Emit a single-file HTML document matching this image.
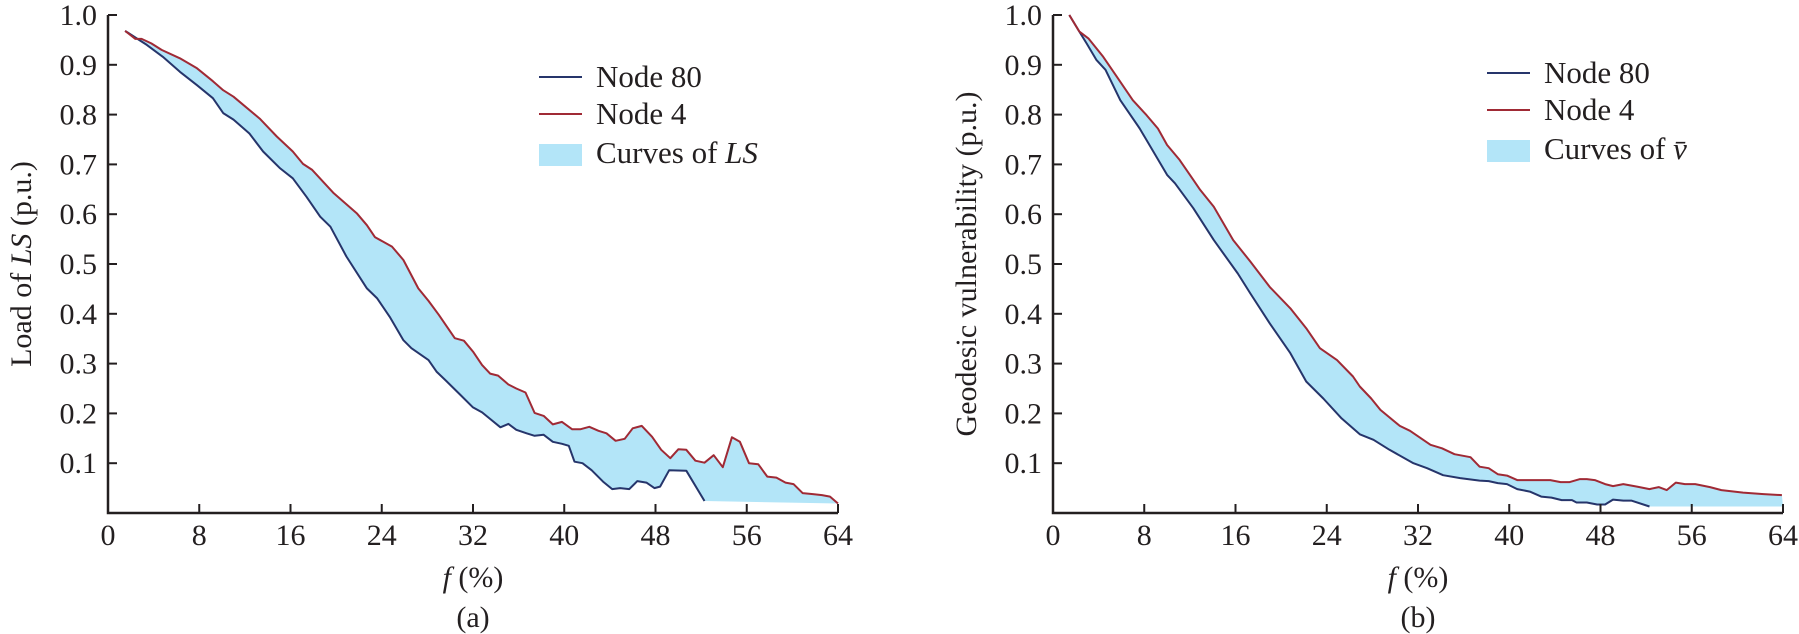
<!DOCTYPE html>
<html><head><meta charset="utf-8"><style>
html,body{margin:0;padding:0;background:#fff;}
svg{display:block;font-family:"Liberation Serif",serif;}
</style></head><body>
<svg id="chart" width="1799" height="634" viewBox="0 0 1799 634" xmlns="http://www.w3.org/2000/svg"></svg>
<script>
// Panel (a) data
const aRedF=[1.5,2.4,2.95,3.8,4.7,6.3,7.8,9.2,10.1,11.0,13.3,14.8,16.2,17.1,17.9,19.8,21.8,22.7,23.4,24.9,25.9,27.2,28.1,29.0,30.4,31.2,32.0,32.8,33.5,34.2,35.1,35.8,36.6,37.4,38.2,39.0,39.8,40.7,41.4,42.2,43.0,43.7,44.5,45.3,46.0,46.8,47.7,48.5,49.3,50.0,50.7,51.5,52.3,53.1,53.9,54.7,55.4,56.2,57.0,57.8,58.6,59.4,60.1,60.9,61.8,62.6,63.3,64.0];
const aRedV=[.968,.952,.952,.943,.930,.913,.893,.867,.849,.836,.792,.756,.726,.701,.689,.642,.602,.578,.554,.535,.508,.451,.426,.398,.351,.346,.324,.297,.280,.276,.258,.250,.242,.201,.195,.178,.183,.168,.168,.173,.165,.160,.145,.149,.170,.175,.153,.127,.110,.128,.127,.105,.101,.116,.092,.152,.143,.100,.098,.073,.071,.061,.058,.040,.038,.036,.033,.019];
const aBlueF=[1.5,3.4,4.8,6.3,7.8,9.2,10.1,11.0,12.4,13.6,15.1,16.2,17.4,18.6,19.5,20.9,22.7,23.6,24.7,25.9,26.6,28.1,28.8,29.7,30.9,32.0,32.8,33.6,34.4,35.1,35.8,36.7,37.4,38.2,39.0,39.8,40.4,40.9,41.6,42.4,43.4,44.2,44.9,45.7,46.4,47.2,47.9,48.4,49.2,50.7,52.3];
const aBlueV=[.968,.940,.916,.886,.859,.833,.803,.790,.762,.726,.692,.672,.635,.595,.575,.515,.451,.431,.394,.347,.331,.307,.284,.264,.237,.212,.202,.187,.172,.179,.167,.160,.155,.157,.143,.139,.135,.103,.100,.086,.063,.048,.050,.048,.064,.061,.050,.053,.086,.085,.024];
const aTailF=[64];
const aTailV=[.019];
// Panel (b) data
const bRedF=[1.43,2.3,3.1,4.4,5.6,7.0,8.2,9.2,10.0,11.1,12.3,12.9,14.1,15.8,17.3,19.0,20.8,22.2,23.4,24.9,26.3,26.9,27.9,28.7,30.4,31.3,33.1,34.1,35.2,36.6,37.4,38.2,39.0,39.8,40.7,41.5,43.6,44.5,45.3,46.2,46.8,47.5,48.4,49.1,50.0,51.2,52.3,53.1,53.8,54.6,55.4,56.3,57.6,58.6,60.5,62.3,63.9];
const bRedV=[1.0,.967,.953,.916,.876,.829,.799,.772,.739,.709,.669,.649,.615,.548,.505,.454,.411,.371,.331,.307,.274,.254,.230,.207,.175,.165,.137,.130,.118,.112,.093,.090,.078,.075,.066,.066,.066,.062,.062,.068,.068,.066,.058,.054,.058,.053,.048,.052,.046,.061,.058,.058,.052,.046,.041,.038,.036];
const bBlueF=[1.43,2.3,2.95,3.8,4.6,5.9,7.6,10.0,10.7,12.3,14.1,16.2,17.3,19.0,20.8,22.2,23.7,25.3,26.9,28.1,29.5,31.6,32.8,34.2,35.7,37.4,38.2,39.0,39.8,40.7,41.8,42.8,43.7,44.6,45.5,45.9,46.8,47.7,48.4,49.1,50.0,50.7,52.3];
const bBlueV=[1.0,.967,.943,.910,.890,.829,.772,.679,.662,.612,.548,.481,.441,.381,.321,.264,.230,.190,.158,.147,.127,.100,.090,.076,.070,.065,.064,.060,.058,.048,.043,.033,.031,.026,.026,.021,.021,.017,.017,.027,.025,.025,.013];
const bTailF=[64];
const bTailV=[.013];
const xTicks=[0,8,16,24,32,40,48,56,64];
const yTicks=[0.1,0.2,0.3,0.4,0.5,0.6,0.7,0.8,0.9,1.0];
const yTickLabels=["0.1","0.2","0.3","0.4","0.5","0.6","0.7","0.8","0.9","1.0"];

const NS="http://www.w3.org/2000/svg";
const svg=document.getElementById('chart');
function mk(tag,attrs,parent,text){const e=document.createElementNS(NS,tag);for(const k in attrs)e.setAttribute(k,attrs[k]);if(text!==undefined)e.textContent=text;(parent||svg).appendChild(e);return e;}
const RED="#a02a35",BLUE="#26356b",FILL="#b3e5f8",AX="#231f20";
const Y0=513,Y1=15;
function yS(v){return Y0-(Y1-Y0)*-v;}
function yScale(v){return Y0+(Y1-Y0)*v;}

function panel(id,x0,redF,redV,blueF,blueV,tailF,tailV,yTitle,legendLast,letter,lx,ly){
  const xScale=f=>x0+f*(730/64);
  const g=mk('g',{});
  
  
  // fill
  let pts=[];
  for(let i=0;i<redF.length;i++)pts.push(xScale(redF[i]).toFixed(1)+','+yScale(redV[i]).toFixed(1));
  for(let i=tailF.length-1;i>=0;i--)pts.push(xScale(tailF[i]).toFixed(1)+','+yScale(tailV[i]).toFixed(1));
  for(let i=blueF.length-1;i>=0;i--)pts.push(xScale(blueF[i]).toFixed(1)+','+yScale(blueV[i]).toFixed(1));
  const band=mk('polygon',{points:pts.join(' '),fill:FILL,stroke:'none'},g);
  
  
  const line=(F,V,c,n)=>{const p=F.map((f,i)=>xScale(f).toFixed(1)+','+yScale(V[i]).toFixed(1)).join(' ');
    const l=mk('polyline',{points:p,fill:'none',stroke:c,'stroke-width':2,'stroke-linejoin':'round'},g);
    
    };
  line(blueF,blueV,BLUE,'node-80-line-'+id);
  line(redF,redV,RED,'node-4-line-'+id);
  // axes
  const ax=mk('path',{d:`M${x0},${Y1} V${Y0} H${xScale(64)}`,fill:'none',stroke:AX,'stroke-width':2.5},g);
  
  
  yTicks.forEach((v,i)=>{const y=yScale(v);
    mk('line',{x1:x0,x2:x0+9,y1:y,y2:y,stroke:AX,'stroke-width':2},g);
    const t=mk('text',{x:x0-11,y:y+10,'text-anchor':'end','font-size':30,fill:AX},g,yTickLabels[i]);
    
    });
  xTicks.forEach(f=>{const x=xScale(f);
    mk('line',{x1:x,x2:x,y1:Y0,y2:Y0-9,stroke:AX,'stroke-width':2},g);
    const t=mk('text',{x:x,y:545,'text-anchor':'middle','font-size':30,fill:AX},g,String(f));
    
    });
  const cx=(x0+xScale(64))/2;
  const xt=mk('text',{x:cx,y:587,'text-anchor':'middle','font-size':30,fill:AX},g);
  
  
  mk('tspan',{'font-style':'italic'},xt,'f');mk('tspan',{},xt,' (%)');
  const lt=mk('text',{x:cx,y:627,'text-anchor':'middle','font-size':30,fill:AX},g,letter);
  
  
  const yt=mk('text',{x:0,y:0,'text-anchor':'middle','font-size':30,fill:AX,transform:`translate(${x0-77},264) rotate(-90)`},g);
  
  
  yTitle(yt);
  // legend
  const lg=mk('g',{},g);
  
  
  mk('line',{x1:lx,x2:lx+43,y1:ly,y2:ly,stroke:BLUE,'stroke-width':2},lg);
  mk('text',{x:lx+57,y:ly+10,'font-size':31,fill:AX},lg,'Node 80');
  mk('line',{x1:lx,x2:lx+43,y1:ly+37,y2:ly+37,stroke:RED,'stroke-width':2},lg);
  mk('text',{x:lx+57,y:ly+47,'font-size':31,fill:AX},lg,'Node 4');
  mk('rect',{x:lx,y:ly+67,width:43,height:22,fill:FILL},lg);
  const l3=mk('text',{x:lx+57,y:ly+86,'font-size':31,fill:AX},lg);
  legendLast(l3);
}
panel('a',108,aRedF,aRedV,aBlueF,aBlueV,aTailF,aTailV,
  t=>{mk('tspan',{},t,'Load of ');mk('tspan',{'font-style':'italic'},t,'LS');mk('tspan',{},t,' (p.u.)');},
  t=>{mk('tspan',{},t,'Curves of ');mk('tspan',{'font-style':'italic'},t,'LS');},'(a)',539,77);
panel('b',1053,bRedF,bRedV,bBlueF,bBlueV,bTailF,bTailV,
  t=>{mk('tspan',{},t,'Geodesic vulnerability (p.u.)');},
  t=>{mk('tspan',{},t,'Curves of ');mk('tspan',{'font-style':'italic'},t,'v\u0304');},'(b)',1487,73);
</script>
</body></html>
